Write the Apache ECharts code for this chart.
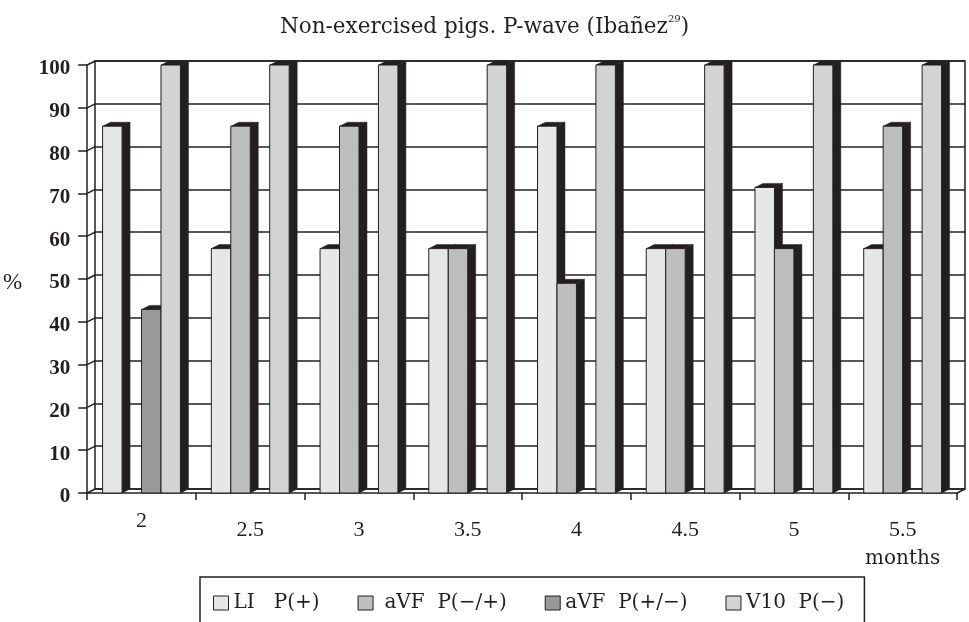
<!DOCTYPE html>
<html>
<head>
<meta charset="utf-8">
<script src="https://cdn.jsdelivr.net/npm/echarts@6/dist/echarts.min.js"></script>
<style>html,body{margin:0;padding:0;background:#fff}#c{width:969px;height:622px}</style>
</head>
<body>
<div id="c"></div>
<script>
const categories = ['2', '2.5', '3', '3.5', '4', '4.5', '5', '5.5'];
const seriesNames = ['LI   P(+)', ' aVF  P(\u2212/+)', 'aVF  P(+/\u2212)', 'V10  P(\u2212)'];
const liP = [85.7, 57.1, 57.1, 57.1, 85.7, 57.1, 71.4, 57.1];
const avfMinusPlus = [null, 85.7, 85.7, 57.1, 49, 57.1, 57.1, 85.7];
const avfPlusMinus = [42.9, null, null, null, null, null, null, null];
const v10P = [100, 100, 100, 100, 100, 100, 100, 100];
const yTicks = [0, 10, 20, 30, 40, 50, 60, 70, 80, 90, 100];

const COLORS = ['#e6e7e8', '#bcbec0', '#98999b', '#d1d3d4'];
const DARK = '#231f20';
const DX = 8, DY = 4;
const BAR_FRAC = 0.179;
const NUMFONT = 'Liberation Serif';
const TXTFONT = 'DejaVu Serif';

function toData(arr) {
  return arr.map((v, i) => (v == null ? null : [i, v])).filter(Boolean);
}

function makeBarRender(slot) {
  return function (params, api) {
    const idx = api.value(0), val = api.value(1);
    const band = api.size([1, 0])[0];
    const w = band * BAR_FRAC;
    const top = api.coord([idx, val]);
    const base = api.coord([idx, 0]);
    const x = top[0] - 2 * w + slot * w;
    const yT = top[1], yB = base[1];
    return {
      type: 'group',
      children: [
        { type: 'polygon', shape: { points: [[x + w, yT], [x + w + DX, yT - DY], [x + w + DX, yB - DY], [x + w, yB]] },
          style: { fill: DARK, stroke: DARK, lineWidth: 0.5 } },
        { type: 'polygon', shape: { points: [[x, yT], [x + DX, yT - DY], [x + w + DX, yT - DY], [x + w, yT]] },
          style: { fill: DARK, stroke: DARK, lineWidth: 0.5 } },
        { type: 'rect', shape: { x: x, y: yT, width: w, height: yB - yT },
          style: { fill: COLORS[slot], stroke: DARK, lineWidth: 1 } }
      ]
    };
  };
}

function wallRender(params, api) {
  const cs = params.coordSys;
  const v = api.value(1);
  const y = api.coord([0, v])[1];
  const children = [
    { type: 'line', shape: { x1: cs.x, y1: y, x2: cs.x + DX, y2: y - DY }, style: { stroke: DARK, lineWidth: 1.5 } }
  ];
  if (v === 0) {
    children.push({ type: 'line', shape: { x1: cs.x + cs.width, y1: y, x2: cs.x + cs.width + DX, y2: y - DY }, style: { stroke: DARK, lineWidth: 1.5 } });
  }
  return { type: 'group', children: children };
}

const allSeries = [liP, avfMinusPlus, avfPlusMinus, v10P];
const barSeries = allSeries.map((arr, i) => ({
  type: 'custom',
  name: seriesNames[i],
  xAxisIndex: 0,
  yAxisIndex: 0,
  clip: false,
  z: 5,
  itemStyle: { color: COLORS[i] },
  renderItem: makeBarRender(i),
  encode: { x: 0, y: 1 },
  data: toData(arr)
}));

const chart = echarts.init(document.getElementById('c'), null, { renderer: 'canvas' });
chart.setOption({
  animation: false,
  backgroundColor: '#ffffff',
  title: {
    left: 'center',
    top: 9,
    text: '{a|Non-exercised pigs. P-wave (Iba\u00f1ez}{s|29}{a|)}',
    textStyle: {
      fontWeight: 'normal',
      rich: {
        a: { fontFamily: TXTFONT, fontSize: 21.5, fontWeight: 'normal', color: DARK, lineHeight: 26 },
        s: { fontFamily: TXTFONT, fontSize: 10, fontWeight: 'normal', color: DARK, verticalAlign: 'top', lineHeight: 14 }
      }
    }
  },
  legend: {
    left: 200,
    top: 577,
    padding: [16, 20, 28, 13],
    itemGap: 38,
    itemWidth: 15,
    itemHeight: 14,
    icon: 'rect',
    borderColor: DARK,
    borderWidth: 1.5,
    textStyle: { fontFamily: TXTFONT, fontSize: 20, color: DARK },
    data: seriesNames.map((n, i) => ({ name: n, itemStyle: { color: COLORS[i], borderColor: DARK, borderWidth: 1 } }))
  },
  grid: [
    { left: 87, right: 12, top: 65, bottom: 129 },
    { left: 95, right: 4, top: 61, bottom: 133, show: true, borderColor: DARK, borderWidth: 1.5, backgroundColor: 'transparent' }
  ],
  xAxis: [
    {
      type: 'category', gridIndex: 0, data: categories, boundaryGap: true,
      axisLine: { show: true, lineStyle: { color: DARK, width: 1.5 } },
      axisTick: { show: true, interval: 0, length: 7, lineStyle: { color: DARK, width: 1.5 } },
      splitLine: { show: false },
      axisLabel: {
        interval: 0, margin: 16, color: DARK,
        formatter: function (val, idx) {
          if (idx === 0) return '{h|' + val + '}';
          if (idx === categories.length - 1) return '{l|' + val + '}\n{m|months}';
          return '{l|' + val + '}';
        },
        rich: {
          h: { fontFamily: NUMFONT, fontSize: 22, color: DARK, lineHeight: 24 },
          l: { fontFamily: NUMFONT, fontSize: 22, color: DARK, lineHeight: 24, padding: [18, 0, 0, 0] },
          m: { fontFamily: TXTFONT, fontSize: 20, color: DARK, lineHeight: 30, padding: [22, 0, 0, 0] }
        }
      }
    },
    { type: 'category', gridIndex: 1, data: categories, show: false }
  ],
  yAxis: [
    {
      type: 'value', gridIndex: 0, min: 0, max: 100, interval: 10,
      name: '{p|%}', nameLocation: 'middle', nameGap: 65, nameRotate: 0,
      nameTextStyle: { rich: { p: { fontFamily: NUMFONT, fontSize: 23, color: DARK, padding: [8, 0, 0, 0] } } },
      axisLine: { show: true, lineStyle: { color: DARK, width: 1.5 } },
      axisTick: { show: true, inside: false, length: 9, lineStyle: { color: DARK, width: 1.5 } },
      splitLine: { show: false },
      axisLabel: {
        margin: 17, color: DARK,
        formatter: function (val) { return '{v|' + val + '}'; },
        rich: { v: { fontFamily: NUMFONT, fontSize: 21, fontWeight: 'bold', color: DARK, padding: [8, 0, 0, 0] } }
      }
    },
    {
      type: 'value', gridIndex: 1, min: 0, max: 100, interval: 10,
      axisLine: { show: false }, axisTick: { show: false }, axisLabel: { show: false },
      splitLine: { show: true, lineStyle: { color: DARK, width: 1.5 } }
    }
  ],
  series: [
    {
      type: 'custom', name: 'walls', xAxisIndex: 0, yAxisIndex: 0, clip: false, silent: true, z: 3,
      renderItem: wallRender, encode: { x: 0, y: 1 },
      data: yTicks.map(v => [0, v])
    }
  ].concat(barSeries)
});
</script>
</body>
</html>
